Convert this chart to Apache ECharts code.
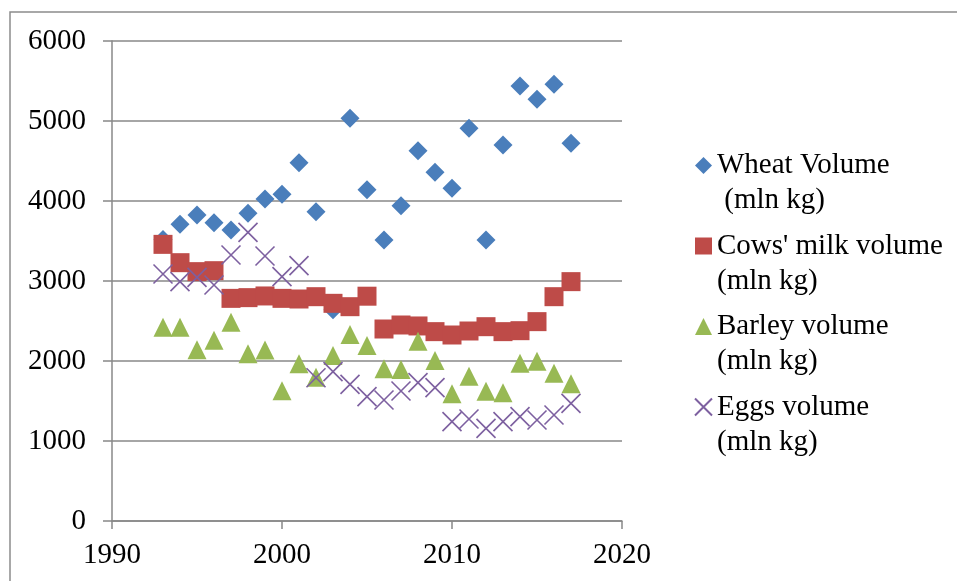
<!DOCTYPE html>
<html>
<head>
<meta charset="utf-8">
<script src="https://cdn.jsdelivr.net/npm/echarts@6/dist/echarts.min.js"></script>
<style>
html,body{margin:0;padding:0;background:#fff;}
#c{width:957px;height:581px;}
</style>
</head>
<body>
<div id="c"></div>
<script>
const years = [1993,1994,1995,1996,1997,1998,1999,2000,2001,2002,2003,2004,2005,2006,2007,2008,2009,2010,2011,2012,2013,2014,2015,2016,2017];
const wheat = [3520,3708,3825,3729,3638,3846,4025,4084,4479,3867,2640,5033,4142,3512,3942,4629,4358,4158,4908,3512,4700,5438,5271,5458,4721];
const milk  = [3458,3229,3117,3129,2783,2792,2813,2783,2775,2804,2721,2679,2810,2400,2450,2438,2367,2325,2375,2429,2367,2379,2492,2804,2992];
const barley= [2421,2421,2142,2258,2485,2090,2138,1627,1965,1796,2069,2331,2193,1902,1894,2246,2006,1590,1810,1623,1602,1971,1998,1846,1715];
const eggs  = [3088,2992,3046,2950,3325,3608,3313,3054,3192,1791,1867,1708,1554,1512,1625,1729,1667,1242,1275,1158,1242,1304,1263,1325,1471];
const seriesNames = ["Wheat Volume\n (mln kg)","Cows' milk volume\n(mln kg)","Barley volume\n(mln kg)","Eggs volume\n(mln kg)"];
const xTicks = {min:1990, max:2020, interval:10};
const yTicks = {min:0, max:6000, interval:1000};

const pts = arr => years.map((y,i)=>[y,arr[i]]);
const font = '"Liberation Serif","Times New Roman",serif';
const grey = '#888888';
const crossPath = 'path://M0,0L10,10M10,0L0,10';
const symbols = ['diamond','rect','triangle',crossPath];
const colors = ['#4A7EBB','#BE4B48','#98B954','#7D60A0'];
const valuesList = [wheat, milk, barley, eggs];

const chart = echarts.init(document.getElementById('c'), null, {renderer:'canvas'});
chart.setOption({
  animation:false,
  backgroundColor:'#ffffff',
  textStyle:{fontFamily:font},
  grid:{left:112, right:335, top:41, bottom:60, containLabel:false},
  graphic:[{type:'rect', silent:true, z:-1,
    shape:{x:10,y:12,width:1000,height:700},
    style:{fill:'none', stroke:'#8c8c8c', lineWidth:1.5}}],
  xAxis:{type:'value', min:xTicks.min, max:xTicks.max, interval:xTicks.interval,
    axisLine:{show:true, onZero:false, lineStyle:{color:grey,width:1.5}},
    axisTick:{show:true, inside:false, length:8, lineStyle:{color:grey,width:1.5}},
    splitLine:{show:false},
    axisLabel:{color:'#000', fontFamily:font, fontSize:29, margin:20, formatter:v=>String(v)}},
  yAxis:{type:'value', min:yTicks.min, max:yTicks.max, interval:yTicks.interval,
    axisLine:{show:true, lineStyle:{color:grey,width:1.5}},
    axisTick:{show:true, inside:false, length:9, lineStyle:{color:grey,width:1.5}},
    splitLine:{show:true, lineStyle:{color:grey,width:1.5}},
    axisLabel:{color:'#000', fontFamily:font, fontSize:29, margin:26, formatter:v=>String(v)}},
  legend:{orient:'vertical', left:694, top:113, padding:0, itemWidth:17, itemHeight:17, itemGap:-24.5,
    selectedMode:false,
    formatter:name=>'\n'+name,
    textStyle:{color:'#000', fontFamily:font, fontSize:29, lineHeight:35},
    data:seriesNames.map((n,i)=>({name:n, icon:symbols[i]}))},
  series:seriesNames.map((n,i)=>({
    name:n, type:'scatter', data:pts(valuesList[i]), symbol:symbols[i], symbolSize:[19,19],
    itemStyle: i===3 ? {color:colors[i], borderColor:colors[i], borderWidth:1.6, opacity:1} : {color:colors[i], opacity:1},
    emphasis:{disabled:true}
  }))
});
</script>
</body>
</html>
